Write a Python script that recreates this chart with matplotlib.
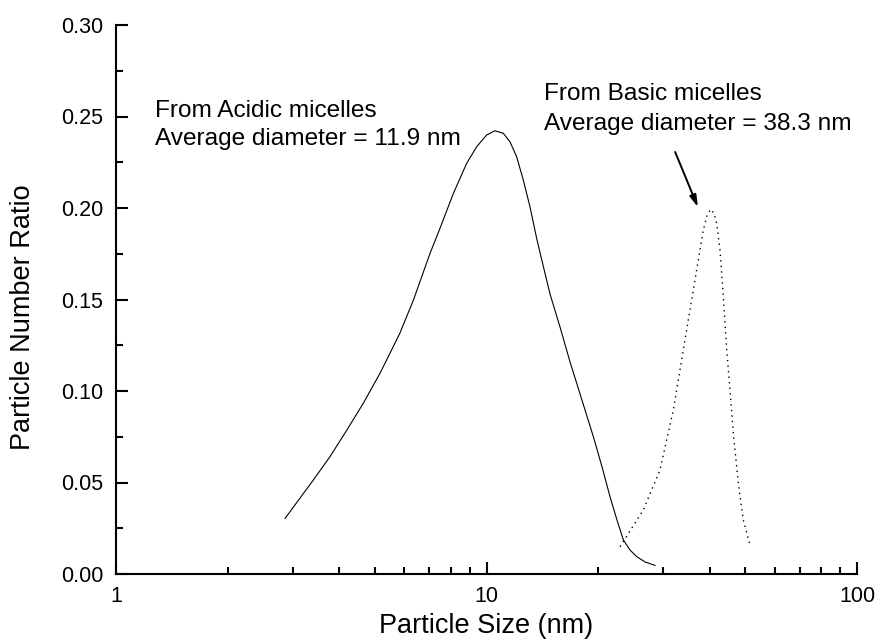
import matplotlib
matplotlib.use("Agg")
import matplotlib.pyplot as plt
from matplotlib.ticker import LogLocator, MultipleLocator, FixedLocator, FixedFormatter, NullFormatter

plt.rcParams['font.family'] = ['Liberation Sans', 'DejaVu Sans']

# Acidic micelles (solid)
acid_x = [2.86, 3.41, 3.78, 4.20, 4.65, 5.16, 5.60, 5.84, 6.35, 7.04, 7.49, 8.14, 8.84,
          9.41, 10.01, 10.54, 11.10, 11.57, 12.06, 12.57, 13.10, 13.66, 13.95, 14.84, 15.79,
          16.81, 17.52, 18.45, 19.43, 20.50, 21.54, 22.50, 23.41, 24.40, 25.43, 26.78, 28.50]
acid_y = [0.0304, 0.0514, 0.0641, 0.0787, 0.0933, 0.1097, 0.1242, 0.1317, 0.1497, 0.1752, 0.1889,
          0.2080, 0.2244, 0.2335, 0.2399, 0.2422, 0.2408, 0.2362, 0.2280, 0.2153, 0.2007,
          0.1834, 0.1755, 0.1530, 0.1350, 0.1158, 0.1042, 0.0896, 0.0750, 0.0586, 0.0423, 0.0295,
          0.0186, 0.0131, 0.0095, 0.0066, 0.0047]

# Basic micelles (dotted)
basic_x = [22.93, 26.50, 29.39, 31.93, 33.98, 36.15, 37.70, 38.48, 39.30, 40.29, 41.11, 41.82,
           42.68, 43.57, 44.50, 45.42, 46.36, 47.83, 49.34, 51.43]
basic_y = [0.0149, 0.0350, 0.0568, 0.0896, 0.1224, 0.1552, 0.1770, 0.1880, 0.1953, 0.1993, 0.1971,
           0.1916, 0.1770, 0.1515, 0.1224, 0.1005, 0.0769, 0.0496, 0.0295, 0.0158]

y_ticks = [0.00, 0.05, 0.10, 0.15, 0.20, 0.25, 0.30]
y_labels = ["0.00", "0.05", "0.10", "0.15", "0.20", "0.25", "0.30"]
x_ticks = [1, 10, 100]
x_labels = ["1", "10", "100"]

fig = plt.figure(figsize=(8.77, 6.39), dpi=100)
ax = fig.add_axes([116/877, 65/639, (857-116)/877, (574-25)/639])

ax.plot(acid_x, acid_y, color='black', lw=0.8, linestyle='-')
ax.plot(basic_x, basic_y, color='black', lw=1.0, linestyle=(0, (1, 3)))

ax.set_xscale('log')
ax.set_xlim(1, 100)
ax.set_ylim(0, 0.30)

for s in ['top', 'right']:
    ax.spines[s].set_visible(False)
for s in ['left', 'bottom']:
    ax.spines[s].set_linewidth(1.5)

ax.xaxis.set_major_locator(FixedLocator(x_ticks))
ax.xaxis.set_major_formatter(FixedFormatter(x_labels))
ax.xaxis.set_minor_locator(LogLocator(base=10, subs=range(2, 10)))
ax.xaxis.set_minor_formatter(NullFormatter())
ax.yaxis.set_major_locator(FixedLocator(y_ticks))
ax.yaxis.set_major_formatter(FixedFormatter(y_labels))
ax.yaxis.set_minor_locator(MultipleLocator(0.025))

ax.tick_params(which='major', direction='in', length=8.6, width=1.5, labelsize=15.5, pad=9)
ax.tick_params(which='minor', direction='in', length=5, width=1.5)
ax.tick_params(top=False, right=False, which='both')

ax.set_xlabel('Particle Size (nm)', fontsize=19.5, labelpad=4)
ax.set_ylabel('Particle Number Ratio', fontsize=19.5)
ax.yaxis.set_label_coords(-0.108, 0.468)

fs = 17.6
ax.text(1.274, 0.2497, 'From Acidic micelles', fontsize=fs, va='baseline', ha='left')
ax.text(1.274, 0.2344, 'Average diameter = 11.9 nm', fontsize=fs, va='baseline', ha='left')
ax.text(14.30, 0.2590, 'From Basic micelles', fontsize=fs, va='baseline', ha='left')
ax.text(14.30, 0.2426, 'Average diameter = 38.3 nm', fontsize=fs, va='baseline', ha='left')

ax.annotate('', xy=(37.2, 0.2005), xytext=(32.3, 0.2306),
            arrowprops=dict(arrowstyle='-|>,head_length=0.7,head_width=0.2', color='black', lw=1.4,
                            shrinkA=0, shrinkB=0))

fig.savefig('out.png', dpi=100)
